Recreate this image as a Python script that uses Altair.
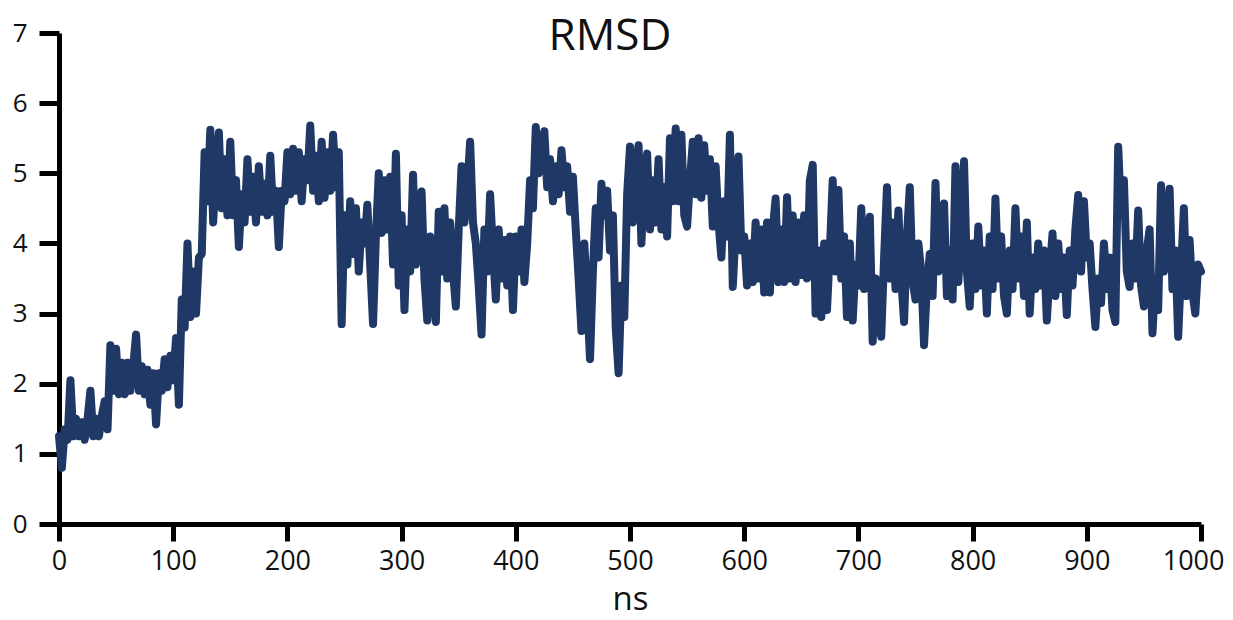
import altair as alt
import pandas as pd

rmsd = [
    1.25, 0.80, 1.35, 1.20,  2.05, 1.25, 1.50, 1.25,  1.45, 1.20, 1.50, 1.90,  1.25, 1.50, 1.25, 1.55,
    1.75, 1.35, 2.55, 1.90,  2.50, 1.85, 2.30, 1.85,  2.30, 1.90, 2.25, 2.70,  1.90, 2.25, 1.85, 2.20,
    1.70, 2.15, 1.42, 2.15,  1.90, 2.35, 1.95, 2.40,  2.05, 2.65, 1.70, 3.20,  2.80, 4.00, 2.95, 3.60,
    3.00, 3.80, 3.85, 5.30,  4.60, 5.62, 4.30, 5.10,  5.58, 4.50, 5.20, 4.40,  5.45, 4.40, 4.90, 3.95,
    4.70, 4.30, 5.20, 4.45,  4.95, 4.30, 5.10, 4.45,  4.85, 4.40, 5.25, 4.45,  4.75, 3.95, 4.75, 4.60,
    5.30, 4.70, 5.35, 4.75,  5.30, 4.60, 5.20, 4.90,  5.68, 4.75, 5.25, 4.60,  5.45, 4.65, 5.30, 4.75,
    5.55, 4.80, 5.30, 2.85,  4.40, 3.70, 4.60, 3.85,  4.50, 3.60, 4.30, 4.00,  4.55, 3.70, 2.85, 4.10,
    5.00, 4.15, 4.90, 4.20,  4.95, 3.70, 5.28, 3.40,  4.40, 3.05, 4.20, 3.60,  4.98, 3.70, 4.30, 4.74,
    3.50, 2.90, 4.10, 3.40,  2.88, 4.45, 3.60, 4.50,  3.50, 4.30, 3.60, 3.10,  4.20, 5.10, 4.30, 4.80,
    5.45, 4.30, 4.00, 3.40,  2.70, 4.20, 3.60, 4.70,  3.90, 3.20, 4.20, 3.50,  4.05, 3.40, 4.10, 3.05,
    4.10, 3.60, 4.20, 3.45,  4.00, 4.90, 4.50, 5.66,  5.00, 5.40, 5.60, 4.80,  5.20, 4.60, 5.10, 4.70,
    5.33, 4.80, 5.10, 4.45,  4.95, 4.20, 3.50, 2.75,  4.00, 3.20, 2.35, 3.60,  4.50, 3.80, 4.85, 4.40,
    4.75, 3.90, 4.40, 2.80,  2.15, 3.40, 2.95, 4.70,  5.38, 4.30, 5.00, 5.40,  4.00, 5.00, 5.28, 4.20,
    4.90, 4.30, 5.20, 4.20,  4.80, 4.10, 5.50, 4.60,  5.64, 4.60, 5.55, 4.40,  4.24, 4.90, 5.45, 4.70,
    5.50, 4.65, 5.40, 4.75,  5.20, 4.24, 5.10, 4.30,  3.80, 4.60, 4.10, 5.55,  3.38, 4.20, 5.24, 3.90,
    4.10, 3.40, 4.00, 3.45,  4.30, 3.50, 4.20, 3.30,  4.30, 3.30, 4.20, 4.64,  3.45, 4.20, 3.45, 4.66,
    3.50, 4.40, 3.45, 4.30,  3.55, 4.40, 3.50, 4.90,  5.12, 3.00, 3.90, 2.95,  4.00, 3.05, 3.90, 4.90,
    3.60, 4.76, 3.50, 4.10,  2.95, 4.00, 2.90, 3.70,  3.40, 4.50, 3.35, 4.00,  4.38, 2.60, 3.50, 3.00,
    2.67, 3.80, 4.80, 3.50,  4.30, 3.35, 4.47, 3.50,  2.88, 4.10, 4.80, 3.45,  3.20, 4.00, 3.60, 2.55,
    3.40, 3.85, 3.25, 4.86,  3.60, 4.30, 4.57, 3.25,  3.90, 3.20, 5.10, 3.45,  4.20, 5.17, 3.60, 3.10,
    4.00, 3.35, 4.24, 3.40,  3.90, 3.00, 4.10, 3.35,  4.64, 3.50, 4.10, 3.25,  3.00, 3.90, 3.35, 4.50,
    3.50, 4.10, 3.25, 4.30,  3.00, 3.80, 3.35, 4.00,  3.40, 3.90, 2.90, 3.60,  4.14, 3.25, 4.00, 3.35,
    3.80, 2.98, 3.90, 3.40,  4.20, 4.69, 3.60, 4.60,  3.80, 4.00, 3.35, 2.81,  3.50, 3.15, 4.00, 3.35,
    3.80, 3.05, 2.88, 5.38,  4.40, 4.90, 3.60, 3.38,  4.00, 3.50, 4.47, 3.40,  3.10, 3.90, 4.20, 2.72,
    3.50, 3.05, 4.83, 3.60,  4.30, 4.78, 3.35, 3.90,  2.67, 3.60, 4.50, 3.25,  4.05, 3.30, 3.00, 3.70,
    3.60,
]
step_ns = 2.5
time_ns = [i * step_ns for i in range(len(rmsd))]

x_ticks = [0, 100, 200, 300, 400, 500, 600, 700, 800, 900, 1000]
y_ticks = [0, 1, 2, 3, 4, 5, 6, 7]
chart_title = ["RMSD"]

df = pd.DataFrame({"ns": time_ns, "rmsd": rmsd})

FONT = "Open Sans"
last_label = "datum.value == 1000"

x_enc = alt.X(
    "ns:Q",
    scale=alt.Scale(domain=[0, 1000], nice=False, zero=False),
    axis=alt.Axis(
        title="ns", values=x_ticks, format="d", grid=False, labelFlush=False,
        labelAlign=alt.condition(last_label, alt.value("right"), alt.value("center")),
        labelOffset=alt.condition(last_label, alt.value(23), alt.value(0)),
        domainColor="black", domainWidth=5, tickColor="black", tickWidth=5,
        tickSize=17, labelFont=FONT, labelFontSize=27, labelColor="#111",
        labelPadding=7, titleFont=FONT, titleFontSize=33,
        titleFontWeight="normal", titleColor="#111", titlePadding=9,
    ),
)
y_enc = alt.Y(
    "rmsd:Q",
    scale=alt.Scale(domain=[0, 7], nice=False),
    axis=alt.Axis(
        title=None, values=y_ticks, format="d", grid=False, labelFlush=False,
        domainColor="black", domainWidth=5, tickColor="black", tickWidth=5,
        tickSize=20, labelFont=FONT, labelFontSize=26, labelColor="#111",
        labelPadding=12,
    ),
)

line = alt.Chart(df).mark_line(
    color="#1f3866", strokeWidth=8, strokeJoin="round", strokeCap="round"
).encode(x=x_enc, y=y_enc)

title_text = alt.Chart(pd.DataFrame({"label": chart_title})).mark_text(
    font=FONT, fontSize=44, color="#111", baseline="alphabetic", align="center"
).encode(text="label:N", x=alt.value(551), y=alt.value(17))

chart = alt.layer(line, title_text).properties(
    width=1142,
    height=491,
    background="white",
    autosize=alt.AutoSizeParams(type="none"),
    padding={"left": 51, "top": 25, "right": 24, "bottom": 96},
).configure_view(strokeWidth=0)

chart.save("out.html", embed_options={"renderer": "svg", "actions": False})
